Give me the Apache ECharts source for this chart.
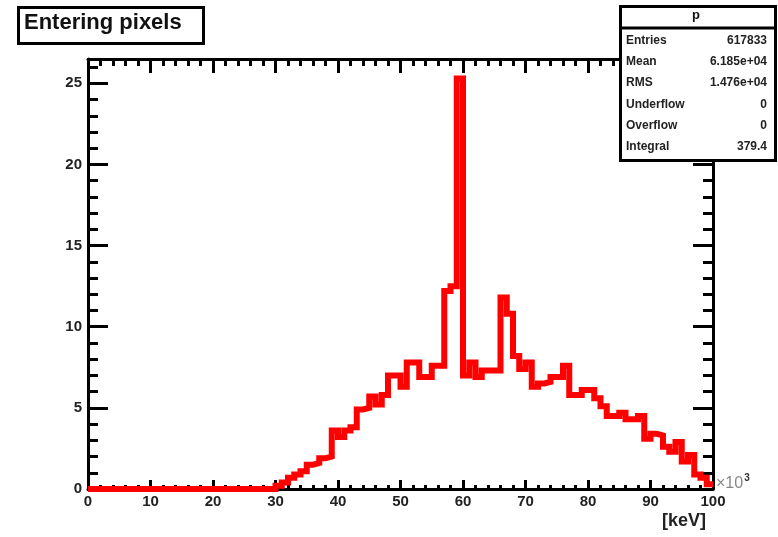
<!DOCTYPE html>
<html>
<head>
<meta charset="utf-8">
<script src="https://cdn.jsdelivr.net/npm/echarts@6/dist/echarts.min.js"></script>
<style>
  html, body { margin: 0; padding: 0; background: #fff; }
  #chart { width: 778px; height: 537px; }
</style>
</head>
<body>
<div id="chart"></div>
<script>
// bin contents, one per 1 (x10^3 keV) bin from 0 to 100
const binCounts = [
  0, 0, 0, 0, 0, 0, 0, 0, 0, 0,
  0, 0, 0, 0, 0, 0, 0, 0, 0, 0,
  0, 0, 0, 0, 0, 0, 0, 0, 0, 0,
  0.2, 0.4, 0.7, 0.9, 1.1, 1.5, 1.6, 1.9, 2.0, 3.6,
  3.2, 3.6, 3.8, 4.9, 5.0, 5.7, 5.2, 5.8, 7.0, 7.0,
  6.3, 7.8, 7.8, 6.9, 6.9, 7.6, 7.6, 12.2, 12.5, 25.3,
  7.0, 7.8, 6.9, 7.3, 7.3, 7.3, 11.8, 10.8, 8.2, 7.4,
  7.8, 6.3, 6.5, 6.6, 6.9, 6.9, 7.6, 5.8, 5.8, 6.1,
  6.1, 5.6, 5.1, 4.5, 4.5, 4.7, 4.3, 4.3, 4.5, 3.1,
  3.4, 3.3, 2.6, 2.3, 2.9, 1.7, 2.1, 0.9, 0.7, 0.3
];
const statLabels = ['Entries', 'Mean', 'RMS', 'Underflow', 'Overflow', 'Integral'];
const statValues = ['617833', '6.185e+04', '1.476e+04', '0', '0', '379.4'];

const font = 'Liberation Sans';

// step points: bin i drawn flat from i to i+1
const stepData = binCounts.map((v, i) => [i, v]);
stepData.push([binCounts.length, binCounts[binCounts.length - 1]]);

const chart = echarts.init(document.getElementById('chart'));

const statRows = [];
statLabels.forEach((lab, i) => {
  const y = [42, 63, 84, 106, 127, 148][i];
  statRows.push({
    type: 'text', left: 626, top: y - 7, z: 101,
    style: { text: lab, font: 'bold 12px ' + font, fill: '#222' }
  });
  statRows.push({
    type: 'text', right: 11, top: y - 7, z: 101,
    style: { text: statValues[i], font: 'bold 12px ' + font, fill: '#222', textAlign: 'right' }
  });
});

const axisLineStyle = { color: '#000', width: 3 };

const option = {
  animation: false,
  backgroundColor: '#fff',
  grid: { left: 88, right: 65, top: 59, bottom: 48 },
  xAxis: [
    {
      type: 'value', min: 0, max: 100, interval: 10,
      axisLine: { show: true, onZero: false, lineStyle: axisLineStyle },
      axisTick: { inside: true, length: 9, lineStyle: axisLineStyle },
      minorTick: { show: true, splitNumber: 5, length: 4, lineStyle: axisLineStyle },
      axisLabel: { color: '#222', fontFamily: font, fontWeight: 'bold', fontSize: 15, margin: 5 },
      splitLine: { show: false }
    },
    {
      type: 'value', min: 0, max: 100, interval: 10, position: 'top',
      axisLine: { show: true, onZero: false, lineStyle: axisLineStyle },
      axisTick: { inside: true, length: 14, lineStyle: axisLineStyle },
      minorTick: { show: true, splitNumber: 5, length: 7, lineStyle: axisLineStyle },
      axisLabel: { show: false },
      splitLine: { show: false }
    }
  ],
  yAxis: [
    {
      type: 'value', min: 0, max: 26.5, interval: 5,
      axisLine: { show: true, onZero: false, lineStyle: axisLineStyle },
      axisTick: { inside: true, length: 20, lineStyle: axisLineStyle },
      minorTick: { show: true, splitNumber: 5, length: 10, lineStyle: axisLineStyle },
      axisLabel: { color: '#222', fontFamily: font, fontWeight: 'bold', fontSize: 15, margin: 6, showMaxLabel: false },
      splitLine: { show: false }
    },
    {
      type: 'value', min: 0, max: 26.5, interval: 5, position: 'right',
      axisLine: { show: true, onZero: false, lineStyle: axisLineStyle },
      axisTick: { inside: true, length: 20, lineStyle: axisLineStyle },
      minorTick: { show: true, splitNumber: 5, length: 10, lineStyle: axisLineStyle },
      axisLabel: { show: false },
      splitLine: { show: false }
    }
  ],
  series: [
    {
      name: 'p',
      type: 'line',
      step: 'end',
      data: stepData,
      symbol: 'none',
      lineStyle: { color: '#ff0000', width: 6, join: 'miter' },
      z: 3
    }
  ],
  graphic: [
    // title box
    {
      type: 'rect', left: 17, top: 6, z: 100,
      shape: { width: 185, height: 36 },
      style: { fill: '#fff', stroke: '#000', lineWidth: 3 }
    },
    {
      type: 'text', left: 24, top: 12, z: 101,
      style: { text: 'Entering pixels', font: 'bold 22px ' + font, fill: '#111' }
    },
    // stats box
    {
      type: 'rect', left: 619, top: 5, z: 100,
      shape: { width: 155, height: 154 },
      style: { fill: '#fff', stroke: '#000', lineWidth: 3 }
    },
    {
      type: 'line', z: 101,
      shape: { x1: 619, y1: 28, x2: 774, y2: 28 },
      style: { stroke: '#000', lineWidth: 3 }
    },
    {
      type: 'text', left: 692, top: 9, z: 101,
      style: { text: 'p', font: 'bold 13px ' + font, fill: '#111' }
    },
    ...statRows,
    // axis extras
    {
      type: 'text', left: 716, top: 473, z: 101,
      style: {
        text: '{a|×10}{b|3}',
        rich: {
          a: { font: '16px ' + font, fill: '#888' },
          b: { font: 'bold 10px ' + font, fill: '#333', verticalAlign: 'top', padding: [0, 0, 12, 1] }
        }
      }
    },
    {
      type: 'text', left: 662, top: 512, z: 101,
      style: { text: '[keV]', font: 'bold 18px ' + font, fill: '#222' }
    }
  ]
};

chart.setOption(option);
</script>
</body>
</html>
